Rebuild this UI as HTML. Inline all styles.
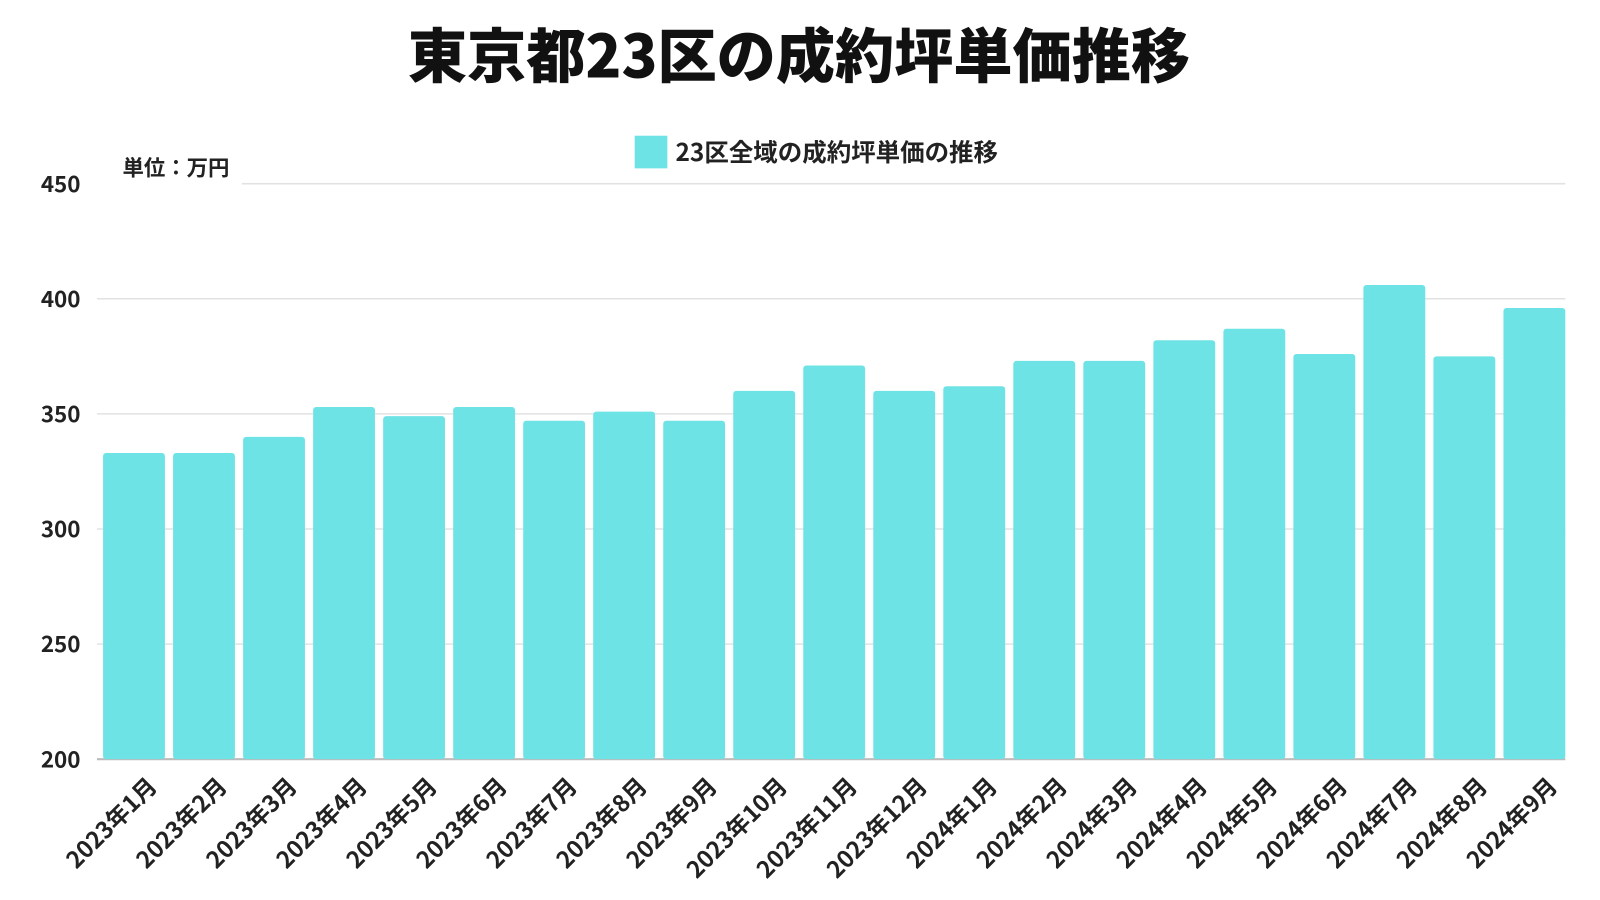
<!DOCTYPE html>
<html><head><meta charset="utf-8">
<style>
html,body{margin:0;padding:0;background:#fff;}
svg{display:block;font-family:"Noto Sans CJK JP","Liberation Sans",sans-serif;}
</style></head>
<body>
<svg id="chart" width="1600" height="900" viewBox="0 0 1568 882">
<text x="783" y="76" text-anchor="middle" font-size="58" font-weight="900" fill="#111">東京都23区の成約坪単価推移</text>
<rect x="622" y="133" width="32" height="32" fill="#6ee3e6"/>
<text x="662" y="158" font-size="24" font-weight="700" fill="#222">23区全域の成約坪単価の推移</text>
<text x="120" y="172" font-size="21" font-weight="700" fill="#222">単位：万円</text>
<g id="grid"></g>
<g id="bars"></g>
<g id="xlabels"></g>
</svg>
<script>
const categories=["2023年1月","2023年2月","2023年3月","2023年4月","2023年5月","2023年6月","2023年7月","2023年8月","2023年9月","2023年10月","2023年11月","2023年12月","2024年1月","2024年2月","2024年3月","2024年4月","2024年5月","2024年6月","2024年7月","2024年8月","2024年9月"];
const values=[333,333,340,353,349,353,347,351,347,360,371,360,362,373,373,382,387,376,406,375,396];
const yTicks=[200,250,300,350,400,450];
const NS="http://www.w3.org/2000/svg";
const x0=101,x1=1542,y0=744,y1=180,yMin=200,yMax=450;
const band=(x1-x0)/categories.length;
function yScale(v){return y0-(v-yMin)/(yMax-yMin)*(y0-y1);}
function xScale(i){return x0+i*band;}
const grid=document.getElementById('grid');
yTicks.forEach(t=>{
  const y=yScale(t);
  const l=document.createElementNS(NS,'line');
  
  
  l.setAttribute('x1',t===450?237:95);l.setAttribute('x2',1534);
  l.setAttribute('y1',y);l.setAttribute('y2',y);
  l.setAttribute('stroke',t===200?'#bbb':'#e2e2e2');l.setAttribute('stroke-width',t===200?2:1.5);
  grid.appendChild(l);
  const tx=document.createElementNS(NS,'text');
  
  
  tx.setAttribute('x',40);tx.setAttribute('y',y+8);
  tx.setAttribute('font-size','22');tx.setAttribute('font-weight','700');tx.setAttribute('fill','#222');
  tx.textContent=t;grid.appendChild(tx);
});
const bars=document.getElementById('bars'),xl=document.getElementById('xlabels');
values.forEach((v,i)=>{
  const r=document.createElementNS(NS,'rect');
  
  
  const x=xScale(i),w=band-8,y=yScale(v);
  r.setAttribute('x',x);r.setAttribute('y',y);r.setAttribute('width',w);r.setAttribute('height',y0-y);
  r.setAttribute('rx',3);r.setAttribute('fill','#6ee3e6');
  bars.appendChild(r);
  const cx=xScale(i)+band/2;
  const t=document.createElementNS(NS,'text');
  
  
  t.setAttribute('text-anchor','end');
  t.setAttribute('font-size','23');t.setAttribute('font-weight','700');t.setAttribute('fill','#222');
  t.setAttribute('transform','translate('+(cx+20)+',772) rotate(-45)');
  t.textContent=categories[i];xl.appendChild(t);
});
</script>
</body></html>
